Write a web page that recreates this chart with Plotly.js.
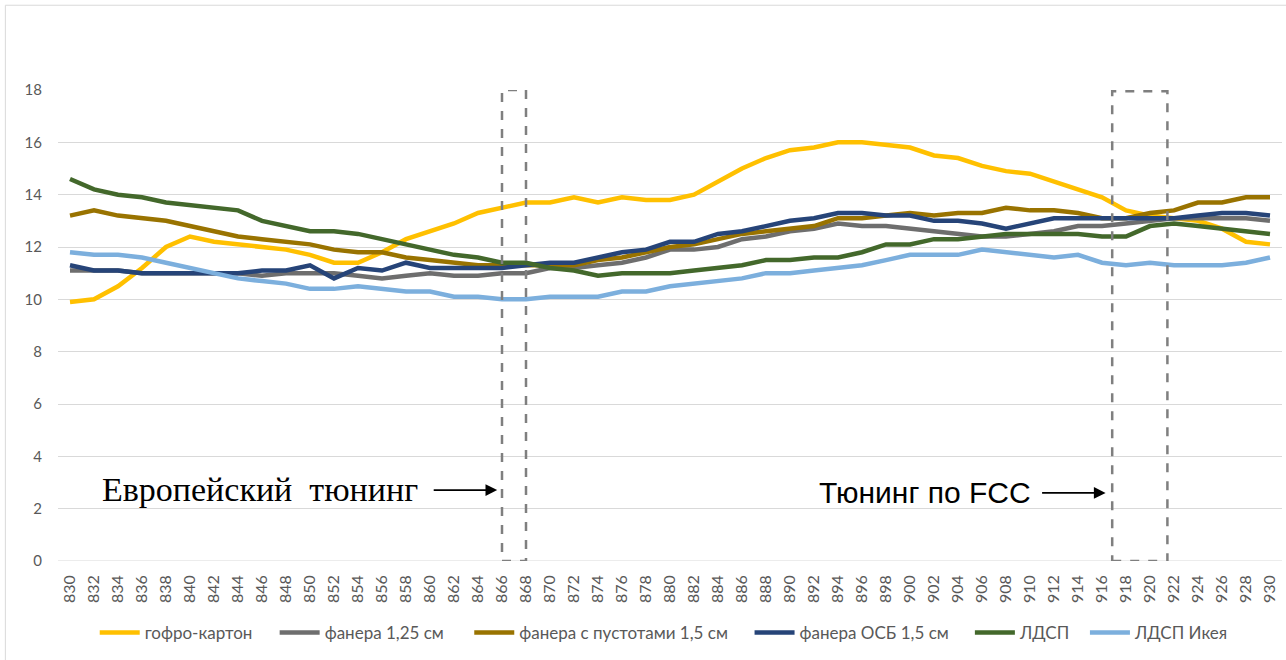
<!DOCTYPE html>
<html>
<head>
<meta charset="utf-8">
<script src="https://cdn.plot.ly/plotly-3.0.1.min.js"></script>
<style>
html,body{margin:0;padding:0;background:#fff;}
#chart{width:1286px;height:660px;}
</style>
</head>
<body>
<div id="chart"></div>
<script>
const freq = [];
for (let f = 830; f <= 930; f += 2) freq.push(f);

const seriesNames = ["гофро-картон", "фанера 1,25 см", "фанера с пустотами 1,5 см", "фанера ОСБ 1,5 см", "ЛДСП", "ЛДСП Икея"];
const seriesColors = ["#FFC000", "#6E6E6E", "#997300", "#264478", "#43682B", "#7CAFDD"];

const gofro = [9.9,10.0,10.5,11.2,12.0,12.4,12.2,12.1,12.0,11.9,11.7,11.4,11.4,11.8,12.3,12.6,12.9,13.3,13.5,13.7,13.7,13.9,13.7,13.9,13.8,13.8,
  14.0,14.5,15.0,15.4,15.7,15.8,16.0,16.0,15.9,15.8,15.5,15.4,15.1,14.9,14.8,14.5,14.2,13.9,13.4,13.2,13.1,13.0,12.7,12.2,12.1];
const fanera125 = [11.1,11.1,11.1,11.0,11.0,11.0,11.0,11.0,10.9,11.0,11.0,11.0,10.9,10.8,10.9,11.0,10.9,10.9,11.0,11.0,11.2,11.2,11.3,11.4,11.6,11.9,
  11.9,12.0,12.3,12.4,12.6,12.7,12.9,12.8,12.8,12.7,12.6,12.5,12.4,12.4,12.5,12.6,12.8,12.8,12.9,13.0,13.1,13.1,13.1,13.1,13.0];
const faneraPust = [13.2,13.4,13.2,13.1,13.0,12.8,12.6,12.4,12.3,12.2,12.1,11.9,11.8,11.8,11.6,11.5,11.4,11.3,11.3,11.3,11.3,11.3,11.5,11.6,11.8,12.0,
  12.1,12.3,12.5,12.6,12.7,12.8,13.1,13.1,13.2,13.3,13.2,13.3,13.3,13.5,13.4,13.4,13.3,13.1,13.1,13.3,13.4,13.7,13.7,13.9,13.9];
const faneraOSB = [11.3,11.1,11.1,11.0,11.0,11.0,11.0,11.0,11.1,11.1,11.3,10.8,11.2,11.1,11.4,11.2,11.2,11.2,11.2,11.3,11.4,11.4,11.6,11.8,11.9,12.2,
  12.2,12.5,12.6,12.8,13.0,13.1,13.3,13.3,13.2,13.2,13.0,13.0,12.9,12.7,12.9,13.1,13.1,13.1,13.1,13.1,13.1,13.2,13.3,13.3,13.2];
const ldsp = [14.6,14.2,14.0,13.9,13.7,13.6,13.5,13.4,13.0,12.8,12.6,12.6,12.5,12.3,12.1,11.9,11.7,11.6,11.4,11.4,11.2,11.1,10.9,11.0,11.0,11.0,
  11.1,11.2,11.3,11.5,11.5,11.6,11.6,11.8,12.1,12.1,12.3,12.3,12.4,12.5,12.5,12.5,12.5,12.4,12.4,12.8,12.9,12.8,12.7,12.6,12.5];
const ldspIkea = [11.8,11.7,11.7,11.6,11.4,11.2,11.0,10.8,10.7,10.6,10.4,10.4,10.5,10.4,10.3,10.3,10.1,10.1,10.0,10.0,10.1,10.1,10.1,10.3,10.3,10.5,
  10.6,10.7,10.8,11.0,11.0,11.1,11.2,11.3,11.5,11.7,11.7,11.7,11.9,11.8,11.7,11.6,11.7,11.4,11.3,11.4,11.3,11.3,11.3,11.4,11.6];

const yTicks = [0,2,4,6,8,10,12,14,16,18];
const euBox = [866, 868];
const fccBox = [916.85, 921.45];
const boxTop = 18;
const euLabel = "Европейский  тюнинг";
const fccLabel = "Тюнинг по FCC";

// legend entry left edges (paper fraction of plot width)
const legendX = [0.030, 0.177, 0.336, 0.565, 0.745, 0.839];

const allSeries = [gofro, fanera125, faneraPust, faneraOSB, ldsp, ldspIkea];
const legendIds = allSeries.map((_, i) => i === 0 ? "legend" : "legend" + (i + 1));
const traces = allSeries.map((ys, i) => ({
  type: "scatter", mode: "lines", x: freq, y: ys, name: seriesNames[i],
  legend: legendIds[i],
  line: {color: seriesColors[i], width: 4.5, shape: "linear"},
  hoverinfo: "x+y+name"
}));

const tickFont = {family: "Lato, 'Open Sans', sans-serif", size: 16, color: "#595959"};

const layout = {
  width: 1286, height: 660,
  margin: {l: 58, r: 4, t: 90, b: 99, pad: 0},
  paper_bgcolor: "#ffffff", plot_bgcolor: "#ffffff",
  showlegend: true,
  xaxis: {range: [829, 931], tickmode: "array", tickvals: freq, ticktext: freq.map(String),
    tickangle: -90, tickfont: tickFont, showgrid: false, zeroline: false,
    showline: false, ticks: "", fixedrange: true, ticklabelstandoff: 10},
  yaxis: {range: [0, 18], tickmode: "array", tickvals: yTicks, ticktext: yTicks.map(String),
    tickfont: {family: "Lato, 'Open Sans', sans-serif", size: 15, color: "#595959"},
    showgrid: true, gridcolor: "#d9d9d9", gridwidth: 1,
    zeroline: false, showline: false, ticks: "", fixedrange: true, ticklabelstandoff: 15},
  shapes: [
    {type: "rect", xref: "x", yref: "y", x0: euBox[0], x1: euBox[1], y0: 0, y1: boxTop,
      line: {color: "#7f7f7f", width: 2.5, dash: "dash"}, fillcolor: "rgba(0,0,0,0)", layer: "above"},
    {type: "rect", xref: "x", yref: "y", x0: fccBox[0], x1: fccBox[1], y0: 0, y1: boxTop - 0.05,
      line: {color: "#7f7f7f", width: 2.5, dash: "dash"}, fillcolor: "rgba(0,0,0,0)", layer: "above"},
    {type: "line", xref: "x", yref: "y", x0: 829, x1: 931, y0: 0, y1: 0,
      line: {color: "#d9d9d9", width: 1}, layer: "below"},
    {type: "rect", xref: "paper", yref: "paper", x0: -0.043, x1: 1.01, y0: -0.22, y1: 1.18,
      line: {color: "#d9d9d9", width: 1}, fillcolor: "rgba(0,0,0,0)"}
  ],
  annotations: [
    {xref: "x", yref: "y", x: 845.8, y: 2.75, text: euLabel, showarrow: false,
      font: {family: "'Liberation Serif', 'DejaVu Serif', serif", size: 34, color: "#000000"}},
    {xref: "x", yref: "y", x: 865.6, y: 2.71, text: "", showarrow: true, ax: -65, ay: 0,
      arrowhead: 2, arrowsize: 1.3, arrowwidth: 1.8, arrowcolor: "#000000"},
    {xref: "x", yref: "y", x: 901.25, y: 2.62, text: fccLabel, showarrow: false,
      font: {family: "'Liberation Sans', Arial, sans-serif", size: 30, color: "#000000"}},
    {xref: "x", yref: "y", x: 916.3, y: 2.6, text: "", showarrow: true, ax: -65, ay: 0,
      arrowhead: 2, arrowsize: 1.3, arrowwidth: 1.8, arrowcolor: "#000000"}
  ]
};

legendIds.forEach((id, i) => {
  layout[id] = {orientation: "h", x: legendX[i], xanchor: "left", y: -0.153, yanchor: "middle",
    font: {family: "Lato, 'Open Sans', sans-serif", size: 17, color: "#595959"},
    itemwidth: 40, bgcolor: "rgba(0,0,0,0)", borderwidth: 0};
});

Plotly.newPlot("chart", traces, layout, {displayModeBar: false, staticPlot: true});
</script>
</body>
</html>
